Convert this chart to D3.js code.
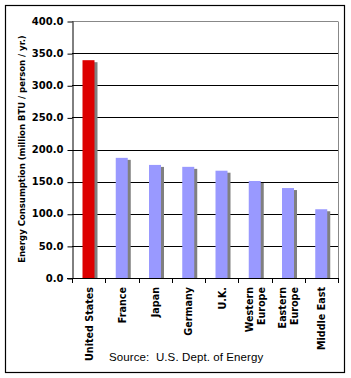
<!DOCTYPE html>
<html lang="en">
<head>
<meta charset="UTF-8">
<title>Energy Consumption</title>
<script src="https://cdn.jsdelivr.net/npm/d3@7"></script>
<style>
  body { margin: 0; background: #fff; }
  svg { display: block; }
</style>
</head>
<body>
<div id="chart"></div>
<script>
  // data
  const categories = ['United States', 'France', 'Japan', 'Germany', 'U.K.', 'Western Europe', 'Eastern Europe', 'Middle East'];
  const labelLines = [['United States'], ['France'], ['Japan'], ['Germany'], ['U.K.'], ['Western', 'Europe'], ['Eastern', 'Europe'], ['Middle East']];
  const values = [339, 187, 176, 173, 167, 151, 140, 107];
  const yTicks = [0, 50, 100, 150, 200, 250, 300, 350, 400];

  const W = 351, H = 378;
  // plot area
  const pLeft = 72, pRight = 338, pTop = 21, pBottom = 278;

  const svg = d3.select('#chart').append('svg')
    .attr('width', W)
    .attr('height', H);

  // outer frame
  svg.append('rect')
    .attr('x', 5.5).attr('y', 5.5)
    .attr('width', 339).attr('height', 367)
    .attr('fill', '#fff')
    .attr('stroke', '#000')
    .attr('stroke-width', 1.2);

  const x = d3.scaleBand().domain(categories).range([pLeft, pRight]).padding(0);
  const y = d3.scaleLinear().domain([0, 400]).range([pBottom, pTop]);

  // gridlines (black), the top one is the gray plot border
  svg.append('g').selectAll('line')
    .data(yTicks.filter(d => d > 0))
    .join('line')
    .attr('x1', pLeft).attr('x2', pRight)
    .attr('y1', d => Math.round(y(d)) + 0.5).attr('y2', d => Math.round(y(d)) + 0.5)
    .attr('stroke', d => d === 400 ? '#888' : '#000')
    .attr('stroke-width', 1);

  // right border of plot
  svg.append('line')
    .attr('x1', pRight + 0.5).attr('x2', pRight + 0.5)
    .attr('y1', Math.round(y(400)) + 0.5).attr('y2', pBottom)
    .attr('stroke', '#888');

  // bars with a gray shadow on the right
  const bw = 12, off = 10.5;
  const bars = svg.append('g');
  bars.selectAll('rect.shadow')
    .data(values)
    .join('rect')
    .attr('class', 'shadow')
    .attr('x', (d, i) => x(categories[i]) + off + 3)
    .attr('y', d => y(d) + 2)
    .attr('width', bw)
    .attr('height', d => pBottom - y(d) - 2)
    .attr('fill', '#808080');
  bars.selectAll('rect.bar')
    .data(values)
    .join('rect')
    .attr('class', 'bar')
    .attr('x', (d, i) => x(categories[i]) + off)
    .attr('y', d => y(d))
    .attr('width', bw)
    .attr('height', d => pBottom - y(d))
    .attr('fill', (d, i) => i === 0 ? '#dd0000' : '#9999ff');

  // y axis
  const yAxis = svg.append('g')
    .attr('transform', `translate(${pLeft + 0.5},0)`)
    .call(d3.axisLeft(y).tickValues(yTicks).tickFormat(d3.format('.1f')).tickSizeInner(5).tickSizeOuter(0).tickPadding(4));
  yAxis.select('.domain').attr('stroke', '#000');
  yAxis.selectAll('.tick line').attr('stroke', '#000').attr('transform', 'translate(0,0.5)');
  yAxis.selectAll('.tick text')
    .attr('font-family', 'DejaVu Sans, Verdana, sans-serif')
    .attr('font-weight', 'bold')
    .attr('font-size', '10px')
    .attr('fill', '#000');

  // x axis baseline with ticks at the category boundaries
  const xb = svg.append('g');
  xb.append('line')
    .attr('x1', pLeft - 5).attr('x2', pRight + 1)
    .attr('y1', pBottom + 0.5).attr('y2', pBottom + 0.5)
    .attr('stroke', '#000');
  xb.selectAll('line.tk')
    .data(categories.map(c => x(c)).concat([pRight]))
    .join('line')
    .attr('class', 'tk')
    .attr('x1', d => Math.round(d) + 0.5).attr('x2', d => Math.round(d) + 0.5)
    .attr('y1', pBottom).attr('y2', pBottom + 5)
    .attr('stroke', '#000');

  // category labels, rotated
  const lab = svg.append('g')
    .attr('font-family', 'DejaVu Sans, Verdana, sans-serif')
    .attr('font-weight', 'bold')
    .attr('font-size', '9.6px');
  categories.forEach((c, i) => {
    const lines = labelLines[i];
    const cx = x(c) + x.bandwidth() / 2 + 0.5;
    const t = lab.append('text')
      .attr('transform', `translate(${cx},287) rotate(-90)`)
      .attr('text-anchor', 'end');
    lines.forEach((s, j) => {
      t.append('tspan')
        .attr('x', 0)
        .attr('y', (j - (lines.length - 1) / 2) * 12.5)
        .attr('dy', '0.35em')
        .text(s);
    });
  });

  // y axis title
  svg.append('text')
    .attr('transform', `translate(22,149) rotate(-90)`)
    .attr('text-anchor', 'middle')
    .attr('dy', '0.35em')
    .attr('font-family', 'DejaVu Sans, Verdana, sans-serif')
    .attr('font-weight', 'bold')
    .attr('font-size', '8.5px')
    .text('Energy Consumption (million BTU / person / yr.)');

  // source note
  svg.append('text')
    .attr('x', 109)
    .attr('y', 361)
    .attr('font-family', 'Liberation Sans, Arial, sans-serif')
    .attr('font-size', '11.5px')
    .attr('letter-spacing', '0.1px')
    .attr('xml:space', 'preserve')
    .text('Source:  U.S. Dept. of Energy');
</script>
</body>
</html>
